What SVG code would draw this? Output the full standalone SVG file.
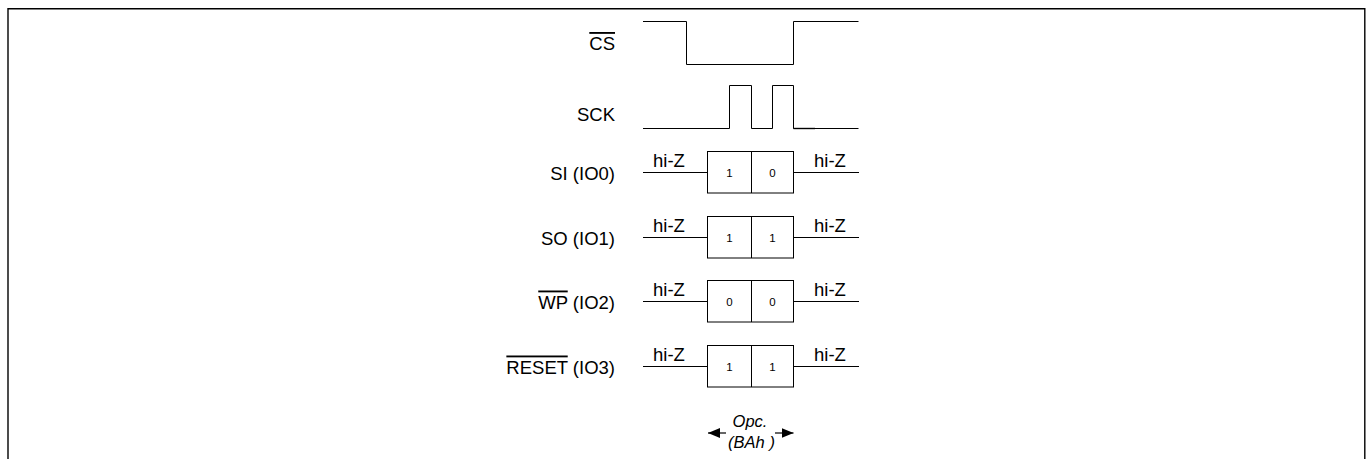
<svg xmlns="http://www.w3.org/2000/svg" width="1369" height="459" viewBox="0 0 1369 459">
<style>
  .lbl { font-family: "Liberation Sans", Arial, sans-serif; font-size: 18.5px; fill: #000; }
  .sig { fill: none; stroke: #000; stroke-width: 1; }
  .box { fill: #fff; stroke: #000; stroke-width: 1; }
  .bit { font-family: "Liberation Sans", Arial, sans-serif; font-size: 11.5px; fill: #000; text-anchor: middle; }
  .hiz { font-family: "Liberation Sans", Arial, sans-serif; font-size: 18.5px; fill: #000; }
  .opc { font-family: "Liberation Sans", Arial, sans-serif; font-size: 16.5px; font-style: italic; fill: #000; text-anchor: middle; }
  .ov { text-decoration: overline; }
</style>
<defs>
  <marker id="ah" viewBox="0 0 12 10" refX="12" refY="5" markerWidth="12" markerHeight="10" markerUnits="userSpaceOnUse" orient="auto">
    <path d="M0,0 L12,5 L0,10 Z" fill="#000"/>
  </marker>
</defs>
<rect x="0" y="0" width="1369" height="459" fill="#fff"/>
<path d="M8,459 V8.7 H1364.8 V459" fill="none" stroke="#000" stroke-width="1.4"/>

<g id="cs">
  <text class="lbl" x="615" y="50" text-anchor="end"><tspan class="ov">CS</tspan></text>
  <path class="sig" d="M643,21.5 H686.5 V64.5 H793.5 V21.5 H858.5"/>
</g>

<g id="sck">
  <text class="lbl" x="615" y="121" text-anchor="end">SCK</text>
  <path class="sig" d="M643,128.5 H729.5 V85.5 H751.5 V128.5 H772.5 V85.5 H793.5 V128.5 H858.5"/>
  <path d="M793.5,128.5 H815" stroke="#000" stroke-width="1.4"/>
</g>

<g id="si">
  <text class="lbl" x="615" y="179.5" text-anchor="end">SI (IO0)</text>
  <path class="sig" d="M643,172.5 H707.5 M793.5,172.5 H859"/>
  <text class="hiz" x="653" y="166.5">hi-Z</text>
  <text class="hiz" x="814" y="166.5">hi-Z</text>
  <rect class="box" x="707.5" y="151.5" width="86" height="41.5"/>
  <path class="sig" d="M751.5,151.5 V193"/>
  <text class="bit" x="729.5" y="176.5">1</text>
  <text class="bit" x="772.5" y="176.5">0</text>
</g>

<g id="so">
  <text class="lbl" x="615" y="244.5" text-anchor="end">SO (IO1)</text>
  <path class="sig" d="M643,237.5 H707.5 M793.5,237.5 H859"/>
  <text class="hiz" x="653" y="231.5">hi-Z</text>
  <text class="hiz" x="814" y="231.5">hi-Z</text>
  <rect class="box" x="707.5" y="216.5" width="86" height="41.5"/>
  <path class="sig" d="M751.5,216.5 V258"/>
  <text class="bit" x="729.5" y="241.5">1</text>
  <text class="bit" x="772.5" y="241.5">1</text>
</g>

<g id="wp">
  <text class="lbl" x="615" y="308.5" text-anchor="end"><tspan class="ov">WP</tspan> (IO2)</text>
  <path class="sig" d="M643,301.5 H707.5 M793.5,301.5 H859"/>
  <text class="hiz" x="653" y="295.5">hi-Z</text>
  <text class="hiz" x="814" y="295.5">hi-Z</text>
  <rect class="box" x="707.5" y="280.5" width="86" height="41.5"/>
  <path class="sig" d="M751.5,280.5 V322"/>
  <text class="bit" x="729.5" y="305.5">0</text>
  <text class="bit" x="772.5" y="305.5">0</text>
</g>

<g id="reset">
  <text class="lbl" x="615" y="373.5" text-anchor="end"><tspan class="ov">RESET</tspan> (IO3)</text>
  <path class="sig" d="M643,366.5 H707.5 M793.5,366.5 H859"/>
  <text class="hiz" x="653" y="360.5">hi-Z</text>
  <text class="hiz" x="814" y="360.5">hi-Z</text>
  <rect class="box" x="707.5" y="345.5" width="86" height="41.5"/>
  <path class="sig" d="M751.5,345.5 V387"/>
  <text class="bit" x="729.5" y="370.5">1</text>
  <text class="bit" x="772.5" y="370.5">1</text>
</g>

<g id="opcode">
  <text class="opc" x="750" y="426.5">Opc.</text>
  <text class="opc" x="751.5" y="448">(BAh )</text>
</g>

<g id="connectors">
  <line x1="726" y1="433" x2="708" y2="433" stroke="#000" stroke-width="1.2" marker-end="url(#ah)"/>
  <line x1="775" y1="433" x2="793.5" y2="433" stroke="#000" stroke-width="1.2" marker-end="url(#ah)"/>
</g>
</svg>
